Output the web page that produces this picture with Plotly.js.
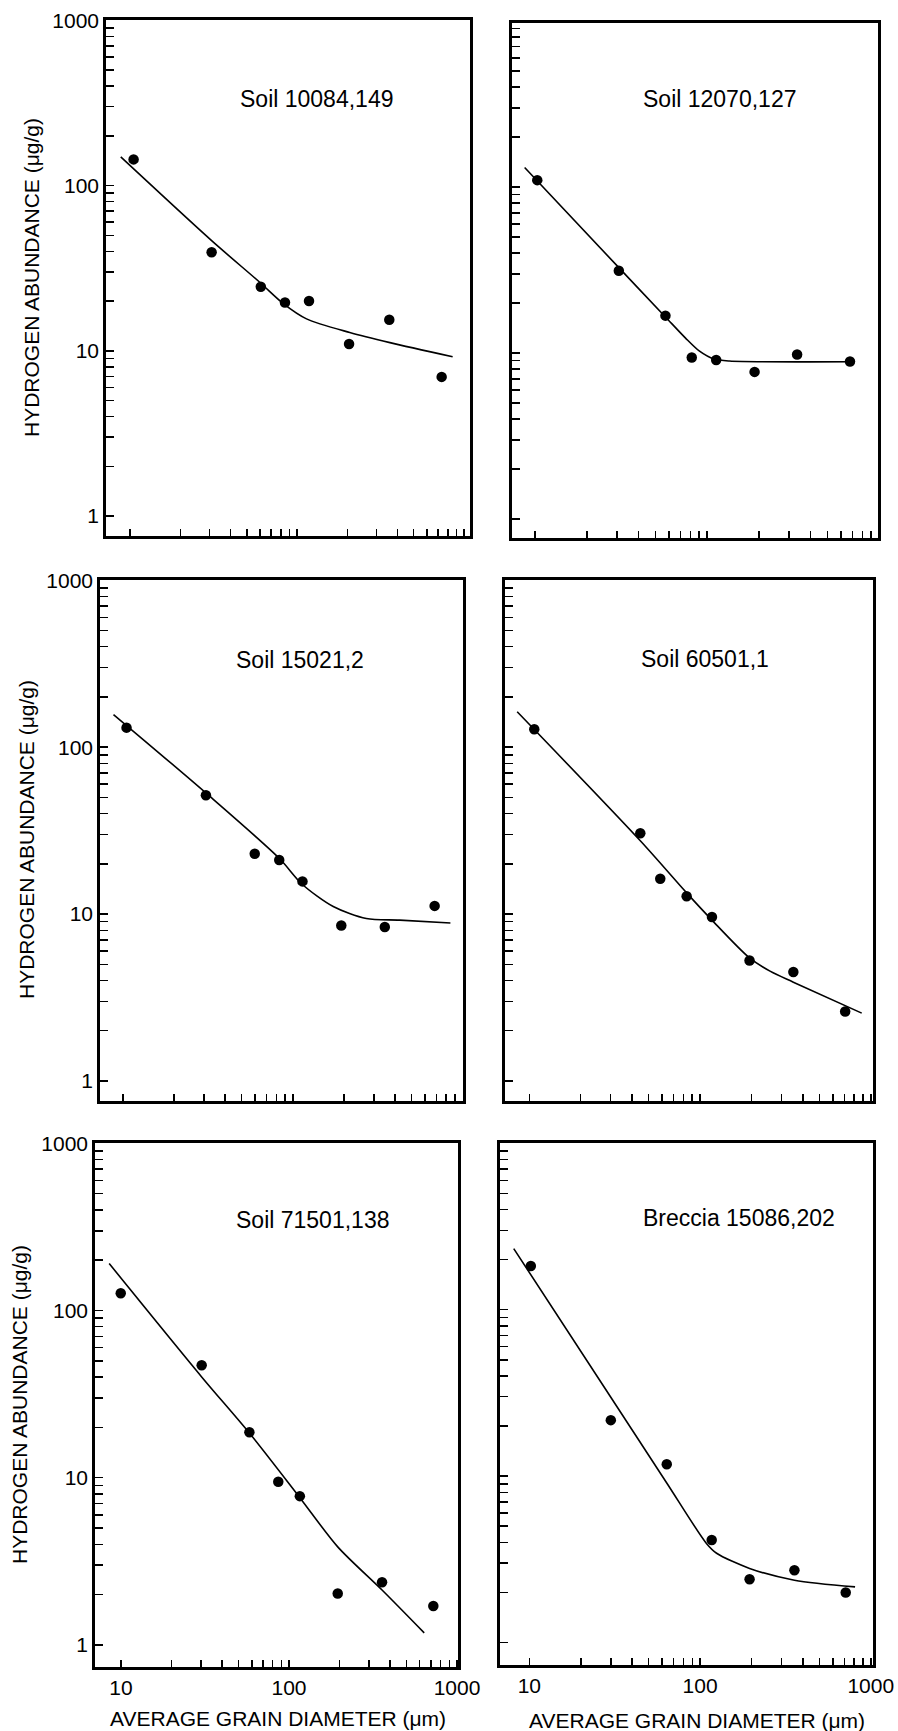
<!DOCTYPE html>
<html>
<head>
<meta charset="utf-8">
<script src="https://cdn.plot.ly/plotly-3.0.1.min.js"></script>
<style>
html,body{margin:0;padding:0;background:#fff;}
#chart{width:898px;height:1731px;}
</style>
</head>
<body>
<div id="chart"></div>
<script>
// ---------- data ----------
const panelNames = ['Soil 10084,149', 'Soil 12070,127', 'Soil 15021,2', 'Soil 60501,1', 'Soil 71501,138', 'Breccia 15086,202'];

// measured points: grain diameter (um) and hydrogen abundance (ug/g)
const diamP1 = [10.5, 30.8, 60.7, 84.7, 118, 205, 357, 735];
const hydP1  = [144, 39.5, 24.4, 19.6, 20.0, 11.0, 15.4, 6.95];
const diamP2 = [10.3, 30.7, 57.3, 81.5, 113, 189, 334, 678];
const hydP2  = [110, 31.3, 16.8, 9.4, 9.08, 7.7, 9.8, 8.9];
const diamP3 = [10.5, 30.8, 59.7, 83.2, 114, 193, 348, 684];
const hydP3  = [131, 51.5, 23.0, 21.1, 15.7, 8.55, 8.36, 11.2];
const diamP4 = [10.7, 44.7, 58.5, 83.5, 117.5, 195, 352, 708];
const hydP4  = [128, 30.5, 16.3, 12.8, 9.6, 5.27, 4.5, 2.61];
const diamP5 = [9.96, 30.2, 58.1, 86.3, 116, 195, 358, 723];
const hydP5  = [127, 47.1, 18.7, 9.46, 7.76, 2.03, 2.37, 1.71];
const diamP6 = [10.2, 30.0, 63.8, 117, 195, 357, 713];
const hydP6  = [183, 21.7, 11.8, 4.13, 2.40, 2.72, 2.0];

// fitted curves
const fitDiamP1 = [8.8, 30.8, 60, 82.8, 114, 207, 360, 855];
const fitHydP1  = [149, 46.4, 25.9, 19.3, 15.6, 12.9, 11.2, 9.2];
const fitDiamP2 = [8.7, 30.7, 57.3, 75, 90, 110, 135, 710];
const fitHydP2  = [131, 32.7, 16.5, 12.3, 10.3, 9.2, 8.95, 8.87];
const fitDiamP3 = [8.8, 30.8, 83.2, 113.5, 173, 271, 426, 847];
const fitHydP3  = [157, 53.2, 21.6, 15.1, 11.1, 9.4, 9.2, 8.85];
const fitDiamP4 = [8.5, 44.7, 83.5, 117.5, 195, 257, 352, 885];
const fitHydP4  = [163, 27.5, 13.4, 9.2, 5.46, 4.55, 3.91, 2.55];
const fitDiamP5 = [8.5, 30.2, 58.1, 116, 195, 358, 638];
const fitHydP5  = [191, 40.1, 18.5, 7.6, 3.86, 2.13, 1.18];
const fitDiamP6 = [8.1, 30.0, 63.8, 109, 125, 195, 357, 809];
const fitHydP6  = [233, 29.8, 9.1, 3.94, 3.44, 2.79, 2.37, 2.16];

// tick labels
const yTickLabels = ['1', '10', '100', '1000'];
const xTickLabels = ['10', '100', '1000'];
const yTitle = 'HYDROGEN ABUNDANCE (\u03bcg/g)';
const xTitle = 'AVERAGE GRAIN DIAMETER (\u03bcm)';

// ---------- build ----------
const W = 898, H = 1731;
const FONT = 'Liberation Sans, Arial, Helvetica, sans-serif';

const pts = [[diamP1, hydP1], [diamP2, hydP2], [diamP3, hydP3], [diamP4, hydP4], [diamP5, hydP5], [diamP6, hydP6]];
const fits = [[fitDiamP1, fitHydP1], [fitDiamP2, fitHydP2], [fitDiamP3, fitHydP3], [fitDiamP4, fitHydP4], [fitDiamP5, fitHydP5], [fitDiamP6, fitHydP6]];

// panel frames in pixels and log10 axis ranges
const frames = [
  {px: [106, 470], py: [20, 536],   xr: [0.856, 3.036], yr: [-0.121, 3.002], lab: [0.577, 0.153]},
  {px: [512, 878], py: [23, 538],   xr: [0.866, 2.994], yr: [-0.114, 2.988], lab: [0.566, 0.148]},
  {px: [100, 463], py: [580, 1101], xr: [0.865, 3.002], yr: [-0.120, 3.002], lab: [0.550, 0.154]},
  {px: [505, 873], py: [580, 1101], xr: [0.858, 3.013], yr: [-0.120, 3.002], lab: [0.543, 0.152]},
  {px: [95, 458],  py: [1143, 1667], xr: [0.845, 3.006], yr: [-0.132, 3.002], lab: [0.598, 0.147]},
  {px: [500, 873], py: [1143, 1665], xr: [0.828, 3.013], yr: [-0.135, 3.002], lab: [0.640, 0.144]}
];

function logTicks(labels) {
  const vals = [], text = [];
  labels.forEach((lab, k) => {
    const base = Number(lab);
    if (k < labels.length - 1) {
      for (let m = 1; m <= 9; m++) { vals.push(base * m); text.push(m === 1 ? lab : ''); }
    } else { vals.push(base); text.push(lab); }
  });
  return {vals, text};
}
const yT = logTicks(yTickLabels);
const xT = logTicks(xTickLabels);

const traces = [];
const layout = {
  width: W, height: H,
  margin: {l: 0, r: 0, t: 0, b: 0},
  paper_bgcolor: '#fff', plot_bgcolor: 'rgba(0,0,0,0)',
  showlegend: false,
  font: {family: FONT, color: '#000', size: 21},
  annotations: []
};

frames.forEach((f, i) => {
  const s = i === 0 ? '' : String(i + 1);
  const row = Math.floor(i / 2), col = i % 2;
  traces.push({
    x: fits[i][0], y: fits[i][1], xaxis: 'x' + s, yaxis: 'y' + s,
    type: 'scatter', mode: 'lines',
    line: {color: '#000', width: 1.6, shape: 'spline', smoothing: 0.8},
    hoverinfo: 'skip'
  });
  traces.push({
    x: pts[i][0], y: pts[i][1], xaxis: 'x' + s, yaxis: 'y' + s,
    type: 'scatter', mode: 'markers',
    marker: {color: '#000', size: 10.5, symbol: 'circle'}
  });
  layout['xaxis' + s] = {
    domain: [f.px[0] / W, f.px[1] / W], anchor: 'y' + s,
    type: 'log', range: f.xr,
    tickmode: 'array', tickvals: xT.vals, ticktext: xT.text,
    ticks: 'inside', ticklen: 7, tickwidth: 1.5, tickcolor: '#000',
    showline: true, linewidth: 2.8, linecolor: '#000', mirror: true,
    showgrid: false, zeroline: false,
    showticklabels: row === 2,
    tickfont: {family: FONT, size: 21, color: '#000'}
  };
  layout['yaxis' + s] = {
    domain: [1 - f.py[1] / H, 1 - f.py[0] / H], anchor: 'x' + s,
    type: 'log', range: f.yr,
    tickmode: 'array', tickvals: yT.vals, ticktext: yT.text,
    ticks: 'inside', ticklen: 8, tickwidth: 1.5, tickcolor: '#000',
    showline: true, linewidth: 2.8, linecolor: '#000', mirror: true,
    showgrid: false, zeroline: false,
    showticklabels: col === 0,
    tickfont: {family: FONT, size: 21, color: '#000'}
  };
  layout.annotations.push({
    xref: 'x' + s + ' domain', yref: 'y' + s + ' domain',
    x: f.lab[0], y: 1 - f.lab[1], xanchor: 'center', yanchor: 'middle',
    text: panelNames[i], showarrow: false,
    font: {family: FONT, size: 23, color: '#000'}
  });
});

// axis titles
const yTitlePos = [[31, 278], [26, 840], [19, 1405]];
yTitlePos.forEach(p => layout.annotations.push({
  xref: 'paper', yref: 'paper', x: p[0] / W, y: 1 - p[1] / H,
  xanchor: 'center', yanchor: 'middle', textangle: -90,
  text: yTitle, showarrow: false, font: {family: FONT, size: 21, color: '#000'}
}));
const xTitlePos = [[278, 1718], [697, 1720]];
xTitlePos.forEach(p => layout.annotations.push({
  xref: 'paper', yref: 'paper', x: p[0] / W, y: 1 - p[1] / H,
  xanchor: 'center', yanchor: 'middle',
  text: xTitle, showarrow: false, font: {family: FONT, size: 21, color: '#000'}
}));

Plotly.newPlot('chart', traces, layout, {staticPlot: true, displayModeBar: false});
</script>
</body>
</html>
